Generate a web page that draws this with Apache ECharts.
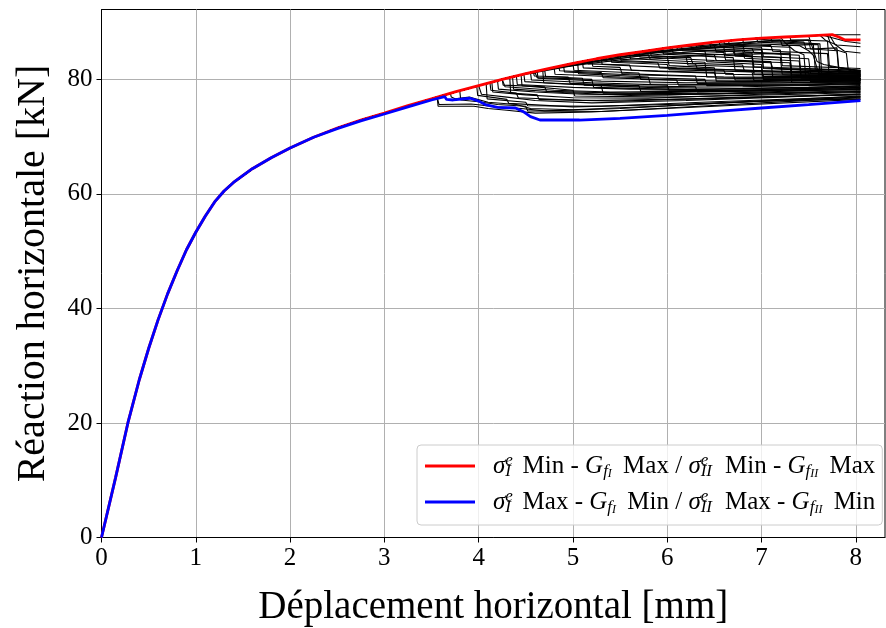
<!DOCTYPE html>
<html><head><meta charset="utf-8">
<script src="https://cdn.jsdelivr.net/npm/echarts@6/dist/echarts.min.js"></script>
<style>html,body{margin:0;padding:0;background:#fff}#c{width:886px;height:628px}</style>
</head><body><div id="c"></div>
<script>
// ---- data ----
const xTicks = [0, 1, 2, 3, 4, 5, 6, 7, 8];
const yTicks = [0, 20, 40, 60, 80];
const xTitle = 'Déplacement horizontal [mm]';
const yTitle = 'Réaction horizontale [kN]';
const redName = 'σ_I^e Min - G_{f_I} Max / σ_{II}^e Min - G_{f_{II}} Max';
const blueName = 'σ_I^e Max - G_{f_I} Min / σ_{II}^e Max - G_{f_{II}} Min';

// shared initial part of all curves
const commonPath = [[0,0],[0.15,10.5],[0.28,20],[0.4,27.5],[0.5,33],[0.6,38],[0.7,42.5],[0.8,46.5],[0.9,50.2],[1.0,53.3],[1.1,56.1],[1.2,58.6],[1.3,60.5],[1.4,62.0],[1.6,64.4],[1.8,66.3],[2.0,68.0],[2.25,69.9]];
// red envelope (upper)
const redPath = [[2.5,71.5],[2.75,72.9],[3.0,74.1],[3.25,75.4],[3.5,76.6],[3.75,77.8],[4.0,78.9],[4.25,80.0],[4.5,81.0],[4.75,81.9],[5.0,82.8],[5.25,83.6],[5.5,84.3],[5.75,84.9],[6.0,85.5],[6.25,86.0],[6.5,86.5],[6.75,86.9],[7.0,87.2],[7.25,87.4],[7.5,87.6],[7.75,87.8],[7.82,87.4],[7.88,86.9],[8.05,86.9]];
// blue envelope (lower)
const bluePath = [[2.5,71.4],[2.75,72.75],[3.0,73.95],[3.25,75.2],[3.5,76.4],[3.64,77.0],[3.66,76.5],[3.68,76.3],[3.73,76.4],[3.91,76.7],[4.0,76.2],[4.07,75.6],[4.2,75.1],[4.39,75.0],[4.47,74.4],[4.55,73.5],[4.65,72.9],[5.07,72.9],[5.5,73.2],[6.0,73.7],[6.6,74.5],[7.0,75.0],[7.5,75.6],[8.05,76.3]];
// black runs: part after leaving the upper envelope
const blackRuns = [
 [[3.56,76.9],[3.57,75.3],[3.95,75.3],[4.1,74.9],[4.3,74.6],[4.6,74.1],[5.2,74.3],[6.0,75.0],[7.0,75.9],[8.05,76.8]],
 [[3.56,76.9],[3.58,75.6],[3.92,75.7],[4.2,75.2],[4.45,74.9],[4.7,74.5],[5.5,74.9],[6.5,75.8],[8.05,77.1]],
 [[3.7,77.6],[3.71,76.9],[3.75,76.6],[3.9,76.9],[4.1,76.0],[4.4,75.6],[4.55,74.9],[5.0,74.7],[6.0,75.4],[7.0,76.2],[8.05,76.6]],
 [[3.8,78.0],[3.81,76.4],[4.0,76.1],[4.2,75.6],[4.5,75.3],[4.52,74.5],[5.3,74.4],[6.5,75.3],[8.05,76.5]],
 [[3.98,78.8],[3.99,77.2],[4.3,76.5],[4.32,75.8],[5.0,75.2],[6.2,75.7],[7.5,76.5],[8.05,76.9]],
 [[4.02,79.0],[4.03,77.4],[4.3,76.9],[4.6,76.3],[5.2,75.9],[6.2,76.3],[7.2,76.9],[8.05,77.5]],
 [[4.08,79.2],[4.09,76.6],[4.5,76.0],[4.52,75.4],[5.3,75.3],[6.5,76.1],[8.05,77.0]],
 [[4.12,79.4],[4.13,78.1],[4.4,77.6],[4.42,76.8],[5.1,76.3],[6.4,76.6],[8.05,77.4]],
 [[4.14,79.5],[4.15,77.8],[4.5,77.3],[5.0,76.8],[5.8,76.7],[7.0,77.4],[8.05,77.9]],
 [[4.2,79.8],[4.21,78.3],[4.6,77.8],[5.1,77.4],[6.0,77.3],[7.0,77.8],[8.05,78.3]],
 [[4.25,80.0],[4.26,79.0],[4.7,78.7],[4.72,77.9],[5.6,77.6],[6.6,77.9],[8.05,78.4]],
 [[4.27,80.1],[4.28,78.7],[4.8,78.1],[5.4,77.8],[6.3,77.9],[8.05,78.6]],
 [[4.33,80.3],[4.34,77.6],[4.62,77.3],[4.64,76.5],[5.5,76.2],[6.8,76.9],[8.05,77.3]],
 [[4.36,80.4],[4.37,78.3],[4.9,77.7],[5.6,77.2],[7.0,77.6],[8.05,77.8]],
 [[4.4,80.6],[4.41,79.1],[5.0,78.6],[5.6,78.3],[6.5,78.3],[8.05,78.8]],
 [[4.4,80.6],[5.0,82.4],[5.5,83.9],[6.0,85.0],[6.5,85.9],[6.52,84.8],[7.0,85.2],[7.02,82.0],[8.05,81.2]],
 [[4.45,80.8],[4.46,78.9],[5.0,78.1],[5.02,77.1],[6.0,76.9],[7.4,77.4],[8.05,77.7]],
 [[4.48,80.9],[4.49,79.6],[4.9,79.2],[5.3,78.9],[5.32,77.6],[6.5,77.5],[8.05,78.0]],
 [[4.5,81.0],[4.6,81.1],[4.62,80.3],[5.2,80.0],[5.22,78.6],[6.2,78.2],[7.5,78.6],[8.05,78.9]],
 [[4.55,81.2],[4.56,79.9],[5.2,79.4],[6.0,79.0],[6.02,78.0],[7.0,78.0],[8.05,78.5]],
 [[4.58,81.3],[4.59,80.6],[4.95,80.4],[4.97,79.3],[5.7,78.9],[5.72,77.9],[7.0,78.2],[8.05,78.7]],
 [[4.6,81.4],[5.2,83.0],[5.8,84.3],[5.82,83.5],[6.4,84.2],[6.9,84.6],[6.92,80.9],[8.05,80.5]],
 [[4.62,81.4],[4.63,80.2],[5.3,79.7],[6.2,79.4],[7.2,79.4],[8.05,79.6]],
 [[4.68,81.6],[4.69,79.4],[5.4,78.9],[6.3,78.7],[6.32,77.8],[8.05,78.2]],
 [[4.7,81.7],[4.71,80.5],[5.1,80.2],[5.12,79.0],[5.8,78.6],[6.8,78.7],[8.05,79.1]],
 [[4.75,81.9],[5.5,83.4],[6.0,84.0],[6.02,82.4],[6.5,82.0],[6.52,79.7],[8.05,79.9]],
 [[4.8,82.1],[4.81,80.9],[5.5,80.4],[6.4,80.0],[6.42,78.9],[7.5,79.0],[8.05,79.3]],
 [[4.85,82.2],[4.86,81.5],[5.3,81.2],[5.32,80.3],[6.1,79.9],[6.12,79.0],[7.3,79.1],[8.05,79.4]],
 [[4.9,82.4],[4.91,81.3],[5.6,80.8],[6.6,80.4],[7.6,80.3],[8.05,80.2]],
 [[4.9,82.4],[5.5,83.9],[6.1,85.0],[6.7,85.9],[6.72,84.3],[7.3,84.6],[7.32,80.0],[8.05,79.9]],
 [[5.0,82.8],[5.01,81.6],[5.7,81.1],[5.72,80.0],[6.8,79.6],[8.05,79.8]],
 [[5.0,82.8],[5.8,84.2],[6.4,85.0],[6.42,83.1],[7.0,82.6],[7.02,80.0],[8.05,80.1]],
 [[5.05,82.9],[5.06,81.0],[5.8,80.4],[5.82,79.2],[7.0,79.0],[8.05,79.2]],
 [[5.1,83.1],[5.11,82.0],[5.9,81.4],[6.7,81.0],[6.72,79.9],[8.05,79.9]],
 [[5.15,83.3],[5.16,82.7],[5.6,82.5],[5.62,81.6],[6.5,81.2],[6.52,80.2],[7.8,80.0],[8.05,80.0]],
 [[5.2,83.4],[5.21,82.3],[5.5,82.1],[5.52,81.0],[6.3,80.6],[6.32,79.3],[8.05,79.4]],
 [[5.25,83.6],[6.0,84.9],[6.6,85.6],[6.62,84.2],[6.9,83.9],[6.92,81.1],[8.05,81.0]],
 [[5.3,83.7],[5.31,82.6],[6.1,82.0],[7.0,81.5],[7.02,80.5],[8.05,80.5]],
 [[5.35,83.8],[5.36,83.2],[5.9,82.9],[5.92,82.0],[6.6,81.6],[6.62,80.9],[7.7,80.6],[8.05,80.6]],
 [[5.4,84.0],[5.41,83.0],[6.0,82.6],[6.02,81.7],[6.9,81.3],[6.92,79.8],[8.05,80.0]],
 [[5.5,84.3],[5.51,83.3],[6.3,82.7],[6.32,81.8],[7.3,81.4],[8.05,81.4]],
 [[5.5,84.3],[6.2,85.3],[6.8,86.0],[6.82,84.8],[7.3,84.4],[7.32,81.3],[8.05,81.2]],
 [[5.6,84.5],[5.61,83.6],[6.4,83.0],[6.42,80.4],[8.05,80.3]],
 [[5.6,84.5],[6.3,85.6],[7.0,86.6],[7.5,86.9],[7.52,85.3],[7.8,85.5],[7.82,82.0],[8.05,81.5]],
 [[5.65,84.7],[5.66,84.2],[6.25,83.8],[6.27,82.8],[6.8,82.5],[6.82,81.4],[7.6,81.1],[7.62,79.8],[8.05,79.8]],
 [[5.7,84.8],[5.71,83.9],[6.5,83.3],[7.3,82.9],[7.32,80.8],[8.05,80.8]],
 [[5.82,85.1],[5.83,84.1],[6.2,83.9],[6.22,82.5],[7.0,82.1],[7.02,80.1],[8.05,80.1]],
 [[5.9,85.3],[5.91,84.7],[6.5,84.3],[6.52,83.3],[7.1,82.9],[7.12,81.9],[8.05,81.6]],
 [[5.95,85.4],[5.96,84.4],[6.7,83.8],[6.72,81.6],[7.5,81.2],[7.52,79.6],[8.05,79.7]],
 [[6.0,85.5],[6.6,86.2],[7.2,86.9],[7.22,85.9],[7.6,86.1],[7.62,80.9],[8.05,80.6]],
 [[6.05,85.6],[6.06,84.7],[6.9,84.1],[6.92,82.2],[8.05,81.6]],
 [[6.1,85.7],[6.11,85.2],[6.7,84.9],[6.72,84.1],[7.2,83.8],[7.22,80.9],[8.05,80.9]],
 [[6.15,85.8],[6.16,85.0],[6.6,84.7],[6.62,83.4],[7.1,83.1],[7.12,80.4],[8.05,80.6]],
 [[6.25,86.0],[6.26,85.2],[7.0,84.6],[7.02,81.9],[7.6,81.5],[7.62,80.6],[8.05,80.7]],
 [[6.3,86.1],[6.31,85.7],[6.9,85.4],[6.92,84.6],[7.4,84.2],[7.42,80.7],[8.05,80.7]],
 [[6.35,86.2],[6.36,85.4],[6.8,85.1],[6.82,83.7],[7.4,83.2],[7.42,80.2],[8.05,80.2]],
 [[6.45,86.4],[6.46,85.7],[7.2,85.1],[7.22,82.4],[8.05,81.9]],
 [[6.55,86.6],[6.56,85.9],[7.0,85.6],[7.02,84.0],[7.5,83.6],[7.52,81.0],[8.05,81.0]],
 [[6.6,86.6],[6.61,86.2],[7.1,85.9],[7.12,84.9],[7.7,84.5],[7.72,80.1],[8.05,80.1]],
 [[6.65,86.7],[6.66,86.0],[7.3,85.6],[7.32,79.5],[8.05,79.5]],
 [[6.8,87.0],[6.81,86.3],[7.4,85.9],[7.5,85.0],[7.55,84.2],[7.6,81.3],[8.05,80.9]],
 [[6.9,87.1],[6.91,86.8],[7.45,86.5],[7.47,85.4],[7.8,85.0],[7.82,81.2],[8.05,81.1]],
 [[6.95,87.15],[6.96,86.5],[7.55,86.1],[7.57,81.8],[8.05,81.3]],
 [[7.1,87.3],[7.11,86.6],[7.62,86.2],[7.64,80.5],[8.05,80.4]],
 [[7.2,87.35],[7.25,86.4],[7.35,85.0],[7.45,84.3],[7.47,80.3],[8.05,80.2]],
 [[7.3,87.45],[7.31,86.9],[7.7,86.7],[7.72,82.3],[8.05,81.5]],
 [[7.5,87.6],[7.52,86.6],[7.59,83.1],[7.66,82.6],[8.05,81.4]],
 [[7.62,87.7],[7.68,86.8],[7.8,86.0],[8.05,85.7]],
 [[7.65,87.7],[7.9,86.6],[8.05,86.3]],
 [[7.7,87.75],[7.73,86.3],[7.78,85.2],[7.9,84.6],[7.92,81.7],[8.05,80.8]],
 [[7.72,87.75],[7.78,86.1],[7.88,84.9],[8.05,84.6]],
 [[7.75,87.8],[8.05,87.8]]
];

// ---- chart ----
const FONT = 'Liberation Serif';
const chart = echarts.init(document.getElementById('c'), null, {renderer: 'canvas'});
const series = [];
blackRuns.forEach((run, i) => {
  const start = run[0][0];
  const data = commonPath.concat(redPath.filter(p => p[0] < start), run);
  series.push({type: 'line', name: 'run' + i, data, showSymbol: false, silent: true,
    lineStyle: {color: '#000', width: 1.1}, z: 2, animation: false});
});
series.push({type: 'line', name: redName, data: commonPath.concat(redPath), showSymbol: false,
  lineStyle: {color: '#ff0000', width: 2.8}, itemStyle: {color: '#ff0000'}, z: 3, animation: false});
series.push({type: 'line', name: blueName, data: commonPath.concat(bluePath), showSymbol: false,
  lineStyle: {color: '#0000ff', width: 2.8}, itemStyle: {color: '#0000ff'}, z: 4, animation: false});

const legendRich = {
  sp: {width: 13, fontSize: 25, lineHeight: 28},
  t: {fontFamily: FONT, fontSize: 25, lineHeight: 28, color: '#000'},
  m: {fontFamily: FONT, fontStyle: 'italic', fontSize: 25, lineHeight: 28, color: '#000'},
  sup: {fontFamily: FONT, fontStyle: 'italic', fontSize: 17, lineHeight: 16, verticalAlign: 'top', width: 0, color: '#000'},
  subI: {fontFamily: FONT, fontStyle: 'italic', fontSize: 17, lineHeight: 13, verticalAlign: 'bottom', width: 11, color: '#000'},
  subII: {fontFamily: FONT, fontStyle: 'italic', fontSize: 17, lineHeight: 13, verticalAlign: 'bottom', width: 18, color: '#000'},
  subf: {fontFamily: FONT, fontStyle: 'italic', fontSize: 17, lineHeight: 13, verticalAlign: 'bottom', color: '#000'},
  ssI: {fontFamily: FONT, fontStyle: 'italic', fontSize: 12, lineHeight: 7, verticalAlign: 'bottom', width: 9, color: '#000'},
  ssII: {fontFamily: FONT, fontStyle: 'italic', fontSize: 12, lineHeight: 7, verticalAlign: 'bottom', width: 13, color: '#000'}
};
function legendText(a, b) {
  return '{sp|}{m|σ}{sup|e}{subI|I}{t| ' + a + ' - }{m|G}{subf|f}{ssI|I}{t| ' + b +
    ' / }{m|σ}{sup|e}{subII|II}{t| ' + a + ' - }{m|G}{subf|f}{ssII|II}{t| ' + b + '}';
}

const option = {
  animation: false,
  backgroundColor: '#fff',
  grid: {left: 101.5, right: 1, top: 9.5, bottom: 90.5, show: true, borderColor: '#000', borderWidth: 1,
    containLabel: false, outerBoundsMode: 'none'},
  xAxis: {
    type: 'value', min: 0, max: 8.31, interval: 1,
    name: xTitle, nameLocation: 'middle', nameGap: 51,
    nameTextStyle: {fontFamily: FONT, fontSize: 39, color: '#000'},
    axisLine: {show: true, onZero: false, lineStyle: {color: '#000', width: 1}},
    axisTick: {show: true, length: 5, customValues: xTicks, lineStyle: {color: '#000', width: 1}},
    axisLabel: {fontFamily: FONT, fontSize: 25, color: '#000', margin: 8, customValues: xTicks,
      formatter: v => xTicks.includes(v) ? String(v) : ''},
    splitLine: {show: true, lineStyle: {color: '#b0b0b0', width: 1}}
  },
  yAxis: {
    type: 'value', min: 0, max: 92.2, interval: 20,
    name: yTitle, nameLocation: 'middle', nameGap: 48,
    nameTextStyle: {fontFamily: FONT, fontSize: 40, color: '#000'},
    axisLine: {show: true, onZero: false, lineStyle: {color: '#000', width: 1}},
    axisTick: {show: true, length: 5, customValues: yTicks, lineStyle: {color: '#000', width: 1}},
    axisLabel: {fontFamily: FONT, fontSize: 25, color: '#000', margin: 9, customValues: yTicks,
      formatter: v => yTicks.includes(v) ? String(v) : ''},
    splitLine: {show: true, lineStyle: {color: '#b0b0b0', width: 1}}
  },
  legend: {
    data: [redName, blueName],
    orient: 'vertical', left: 417, top: 445,
    icon: 'rect', itemWidth: 50, itemHeight: 3, itemGap: 8,
    padding: [7, 7, 9, 8],
    backgroundColor: 'rgba(255,255,255,0.8)', borderColor: '#cccccc', borderWidth: 1, borderRadius: 4,
    selectedMode: false,
    textStyle: {rich: legendRich},
    formatter: name => name === redName ? legendText('Min', 'Max') : legendText('Max', 'Min')
  },
  series
};
chart.setOption(option);
</script>
</body></html>
